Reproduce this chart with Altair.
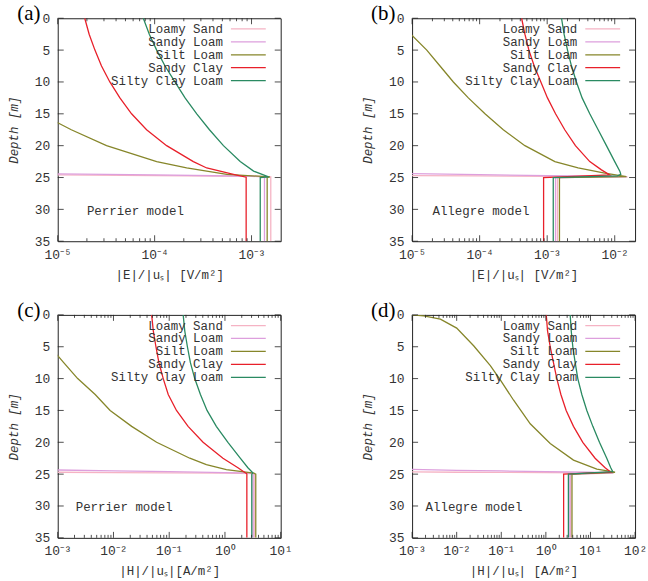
import altair as alt
import pandas as pd

SERIES = ["Loamy Sand", "Sandy Loam", "Silt Loam", "Sandy Clay", "Silty Clay Loam"]
COLORS = ["#f5b3c4", "#dd9fdd", "#86862a", "#e8202a", "#2a8a62"]

Y_MAJOR = [0, 5, 10, 15, 20, 25, 30, 35]

# ---------------- Panel (a): |E|/|u_s|, Perrier ----------------
A_LS_X = [1e-6, 1e-5, 1e-4, 1e-3, 1.58e-3, 1.58e-3]
A_LS_D = [24.5, 24.6, 24.7, 24.82, 24.9, 35]
A_SL_X = [1e-6, 1e-5, 1e-4, 1e-3, 1.52e-3, 1.36e-3, 1.36e-3]
A_SL_D = [24.3, 24.42, 24.6, 24.8, 24.9, 25.0, 35]
A_SI_X = [5e-6, 1e-5, 1.38e-5, 3.19e-5, 1.05e-4, 2.14e-4, 5.56e-4, 1.55e-3, 1.45e-3, 1.45e-3]
A_SI_D = [14.5, 16.4, 17.5, 20.0, 22.5, 23.5, 24.5, 24.9, 25.0, 35]
A_SC_X = [1.90e-5, 2.11e-5, 2.42e-5, 2.83e-5, 3.45e-5, 4.38e-5, 5.78e-5, 8.26e-5, 1.33e-4,
          2.51e-4, 3.45e-4, 6.51e-4, 8.8e-4, 8.8e-4]
A_SC_D = [0, 2.5, 5, 7.5, 10, 12.5, 15, 17.5, 20, 22.5, 23.5, 24.5, 24.95, 35]
A_CL_X = [7.64e-5, 8.81e-5, 1.05e-4, 1.28e-4, 1.62e-4, 2.06e-4, 2.72e-4, 3.68e-4, 5.13e-4,
          7.64e-4, 1.05e-3, 1.5e-3, 1.23e-3, 1.23e-3]
A_CL_D = [0, 2.5, 5, 7.5, 10, 12.5, 15, 17.5, 20, 22.5, 24, 24.9, 25.0, 35]

# ---------------- Panel (b): |E|/|u_s|, Allegre ----------------
B_LS_X = [1e-6, 1e-5, 1e-4, 1e-3, 1e-2, 1.55e-2, 1.42e-3, 1.42e-3]
B_LS_D = [24.6, 24.7, 24.75, 24.8, 24.85, 24.9, 25.0, 35]
B_SL_X = [1e-6, 1e-5, 1e-4, 1e-3, 1e-2, 1.5e-2, 1.33e-3, 1.33e-3]
B_SL_D = [24.25, 24.4, 24.55, 24.7, 24.8, 24.85, 25.0, 35]
B_SI_X = [7e-6, 1e-5, 1.65e-5, 2.59e-5, 4.08e-5, 6.80e-5, 1.20e-4, 2.24e-4, 4.68e-4, 1.30e-3,
          2.87e-3, 7.11e-3, 1.49e-2, 1.52e-3, 1.52e-3]
B_SI_D = [1.0, 2.7, 5, 7.5, 10, 12.5, 15, 17.5, 20, 22.5, 23.5, 24.3, 24.85, 25.0, 35]
B_SC_X = [4.18e-4, 4.68e-4, 5.36e-4, 6.43e-4, 8.06e-4, 1.01e-3, 1.33e-3, 1.82e-3, 2.62e-3,
          4.27e-3, 6.36e-3, 8.44e-3, 8.85e-4, 8.85e-4]
B_SC_D = [0, 2.5, 5, 7.5, 10, 12.5, 15, 17.5, 20, 22.5, 23.8, 24.6, 25.0, 35]
B_CL_X = [1.63e-3, 1.78e-3, 2.0e-3, 2.29e-3, 2.71e-3, 3.29e-3, 4.27e-3, 5.68e-3, 7.54e-3,
          1.0e-2, 1.19e-2, 1.23e-2, 1.1e-2, 1.23e-3, 1.23e-3]
B_CL_D = [0, 2.5, 5, 7.5, 10, 12.5, 15, 17.5, 20, 22.5, 24, 24.5, 24.75, 25.0, 35]

# ---------------- Panel (c): |H|/|u_s|, Perrier ----------------
C_LS_X = [1e-4, 1e-3, 1e-2, 1e-1, 1.0, 3.2, 3.35, 3.35]
C_LS_D = [24.6, 24.7, 24.75, 24.8, 24.85, 24.9, 25.0, 35]
C_SL_X = [1e-4, 1e-3, 1e-2, 1e-1, 1.0, 3.1, 3.2, 3.2]
C_SL_D = [24.2, 24.35, 24.5, 24.62, 24.75, 24.85, 25.0, 35]
C_SI_X = [5e-4, 1e-3, 1.28e-3, 2.28e-3, 4.70e-3, 8.71e-3, 2.12e-2, 5.94e-2, 0.234, 0.464,
          1.06, 3.3, 3.57, 3.57]
C_SI_D = [4.5, 6.4, 7.5, 10, 12.5, 15, 17.5, 20, 22.5, 23.5, 24.3, 24.85, 25.0, 35]
C_SC_X = [4.84e-2, 5.18e-2, 5.78e-2, 6.53e-2, 7.81e-2, 9.6e-2, 0.135, 0.218, 0.405, 0.92,
          1.71, 2.24, 2.47, 2.47]
C_SC_D = [0, 2.5, 5, 7.5, 10, 12.5, 15, 17.5, 20, 22.5, 24, 24.7, 24.95, 35]
C_CL_X = [0.178, 0.190, 0.212, 0.240, 0.287, 0.363, 0.477, 0.700, 1.13, 1.88, 2.58, 3.16,
          3.03, 3.03]
C_CL_D = [0, 2.5, 5, 7.5, 10, 12.5, 15, 17.5, 20, 22.5, 24, 24.8, 25.0, 35]

# ---------------- Panel (d): |H|/|u_s|, Allegre ----------------
D_LS_X = [1e-4, 1e-3, 1e-2, 1e-1, 1.0, 10.0, 33.0, 3.6, 3.6]
D_LS_D = [24.6, 24.65, 24.7, 24.72, 24.75, 24.8, 24.85, 25.0, 35]
D_SL_X = [1e-4, 1e-3, 1e-2, 1e-1, 1.0, 10.0, 32.0, 3.45, 3.45]
D_SL_D = [24.1, 24.25, 24.4, 24.5, 24.6, 24.7, 24.8, 25.0, 35]
D_SI_X = [1.0e-3, 1.82e-3, 4.31e-3, 1.0e-2, 2.40e-2, 5.68e-2, 9.5e-2, 0.189, 0.446, 1.25,
          4.16, 13.9, 35.6, 3.85, 3.85]
D_SI_D = [0.0, 0.16, 0.68, 2.08, 4.84, 7.97, 10.2, 13.4, 17.1, 20.2, 22.8, 24.2, 24.7, 25.0, 35]
D_SC_X = [1.02, 1.09, 1.25, 1.48, 1.76, 2.17, 2.85, 4.16, 6.73, 12.7, 21.3, 28.5, 2.5, 2.5]
D_SC_D = [0, 2.5, 5, 7.5, 10, 12.5, 15, 17.5, 20, 22.5, 24, 24.7, 25.0, 35]
D_CL_X = [3.51, 3.70, 4.02, 4.54, 5.20, 6.40, 8.28, 11.3, 15.9, 23.2, 28.5, 31.6, 3.2, 3.2]
D_CL_D = [0, 2.5, 5, 7.5, 10, 12.5, 15, 17.5, 20, 22.5, 24, 24.6, 25.0, 35]

PANELS = [
    dict(letter="(a)", model="Perrier model", mx=2.0e-5, md=30.2,
         xdom=[1e-5, 2e-3], exps=[-5, -4, -3], xtitle="|E|/|uₛ|  [V/m²]",
         data=[(A_LS_X, A_LS_D), (A_SL_X, A_SL_D), (A_SI_X, A_SI_D), (A_SC_X, A_SC_D), (A_CL_X, A_CL_D)]),
    dict(letter="(b)", model="Allegre model", mx=2.0e-5, md=30.2,
         xdom=[1e-5, 2e-2], exps=[-5, -4, -3, -2], xtitle="|E|/|uₛ|  [V/m²]",
         data=[(B_LS_X, B_LS_D), (B_SL_X, B_SL_D), (B_SI_X, B_SI_D), (B_SC_X, B_SC_D), (B_CL_X, B_CL_D)]),
    dict(letter="(c)", model="Perrier model", mx=2.1e-3, md=30.2,
         xdom=[1e-3, 1e1], exps=[-3, -2, -1, 0, 1], xtitle="|H|/|uₛ|[A/m²]",
         data=[(C_LS_X, C_LS_D), (C_SL_X, C_SL_D), (C_SI_X, C_SI_D), (C_SC_X, C_SC_D), (C_CL_X, C_CL_D)]),
    dict(letter="(d)", model="Allegre model", mx=2.0e-3, md=30.2,
         xdom=[1e-3, 1e2], exps=[-3, -2, -1, 0, 1, 2], xtitle="|H|/|uₛ|  [A/m²]",
         data=[(D_LS_X, D_LS_D), (D_SL_X, D_SL_D), (D_SI_X, D_SI_D), (D_SC_X, D_SC_D), (D_CL_X, D_CL_D)]),
]

MONO = "Liberation Mono"
TXT = "#333333"
FRAME = "#222222"
W = H = 224
SUP = {"-": "⁻", "0": "⁰", "1": "¹", "2": "²", "3": "³", "4": "⁴", "5": "⁵",
       "6": "⁶", "7": "⁷", "8": "⁸", "9": "⁹"}


def sup(e):
    return "10" + "".join(SUP[c] for c in str(e))


def label_expr(exps):
    expr = "''"
    for e in reversed(exps):
        expr = f"(datum.value < {10.0 ** e * 3.0}) ? '{sup(e)}' : {expr}"
    return expr


def panel(p):
    rows = []
    for s, (xs, ds) in zip(SERIES, p["data"]):
        for i, (x, d) in enumerate(zip(xs, ds)):
            rows.append({"series": s, "x": x, "d": d, "i": i})
    df = pd.DataFrame(rows)

    xscale = alt.Scale(type="log", domain=p["xdom"], nice=False)
    yscale = alt.Scale(domain=[0, 35], reverse=True, nice=False, zero=False)
    xaxis = alt.Axis(values=[10.0 ** e for e in p["exps"]], labelExpr=label_expr(p["exps"]),
                     title=p["xtitle"], ticks=False, domain=False, grid=False,
                     labelFont=MONO, labelFontSize=13, labelColor=TXT, labelPadding=7,
                     labelFlush=False, labelOverlap=False,
                     titleFont=MONO, titleFontSize=12.5, titleFontWeight="normal",
                     titleColor=TXT, titlePadding=7)
    yaxis = alt.Axis(values=Y_MAJOR, title="Depth  [m]", ticks=False, domain=False, grid=False,
                     labelFont=MONO, labelFontSize=13, labelColor=TXT, labelPadding=8,
                     labelFlush=False, labelOverlap=False,
                     titleFont=MONO, titleFontSize=12.5, titleFontWeight="normal",
                     titleFontStyle="italic", titleColor=TXT, titlePadding=14)
    X = lambda f: alt.X(f, scale=xscale, axis=xaxis)
    Y = lambda f: alt.Y(f, scale=yscale, axis=yaxis)

    color = alt.Color("series:N", scale=alt.Scale(domain=SERIES, range=COLORS), legend=None)

    lines = alt.Chart(df).mark_line(clip=True, strokeWidth=1.3).encode(
        x=X("x:Q"), y=Y("d:Q"), color=color, detail="series:N", order="i:Q")

    # inward tick marks (gnuplot style)
    lo, hi = p["exps"][0], p["exps"][-1]
    xmaj = [10.0 ** e for e in p["exps"]]
    xmin = [m * 10.0 ** e for e in range(lo, hi + 1) for m in range(2, 10)
            if p["xdom"][0] < m * 10.0 ** e < p["xdom"][1]]
    tk = dict(color=FRAME, strokeWidth=0.8)
    tx_maj = pd.DataFrame({"v": xmaj})
    tx_min = pd.DataFrame({"v": xmin})
    ty = pd.DataFrame({"v": Y_MAJOR})
    ticks = [
        alt.Chart(tx_maj).mark_rule(**tk).encode(x=X("v:Q"), y=alt.value(H), y2=alt.value(H - 6)),
        alt.Chart(tx_maj).mark_rule(**tk).encode(x=X("v:Q"), y=alt.value(0), y2=alt.value(6)),
        alt.Chart(tx_min).mark_rule(**tk).encode(x=X("v:Q"), y=alt.value(H), y2=alt.value(H - 3)),
        alt.Chart(tx_min).mark_rule(**tk).encode(x=X("v:Q"), y=alt.value(0), y2=alt.value(3)),
        alt.Chart(ty).mark_rule(**tk).encode(y=Y("v:Q"), x=alt.value(0), x2=alt.value(6)),
        alt.Chart(ty).mark_rule(**tk).encode(y=Y("v:Q"), x=alt.value(W), x2=alt.value(W - 6)),
    ]

    # key (labels right-aligned, sample line to the right)
    leg = alt.Chart(pd.DataFrame({"series": SERIES, "k": list(range(5))})).transform_calculate(
        ly="(10.7 + 13 * datum.k) * 35 / 224")
    leg_text = leg.mark_text(align="right", baseline="middle", font=MONO, fontSize=12.5,
                             color=TXT).encode(x=alt.value(166), y=Y("ly:Q"), text="series:N")
    leg_line = leg.mark_rule(strokeWidth=1.3).encode(
        x=alt.value(174), x2=alt.value(209), y=Y("ly:Q"), color=color)

    model = alt.Chart(pd.DataFrame({"x": [p["mx"]], "d": [p["md"]], "t": [p["model"]]})).mark_text(
        align="left", baseline="middle", font=MONO, fontSize=12.5, color=TXT).encode(
        x=X("x:Q"), y=Y("d:Q"), text="t:N")

    letter = alt.Chart(pd.DataFrame({"t": [p["letter"]]})).mark_text(
        align="center", baseline="middle", font="Liberation Serif", fontSize=21,
        color="#000000").encode(x=alt.value(-29), y=alt.value(-4), text="t:N")

    return alt.layer(lines, *ticks, leg_line, leg_text, model, letter).properties(width=W, height=H)


panels = [panel(p) for p in PANELS]
chart = alt.concat(*panels, columns=2, spacing={"row": 74, "column": 132}, bounds="flush").properties(
    padding={"left": 6, "top": 1, "right": 0, "bottom": 0}, background="white"
).configure_view(stroke=FRAME, strokeWidth=1)

chart.save("out.html", embed_options={"renderer": "svg", "actions": False})
